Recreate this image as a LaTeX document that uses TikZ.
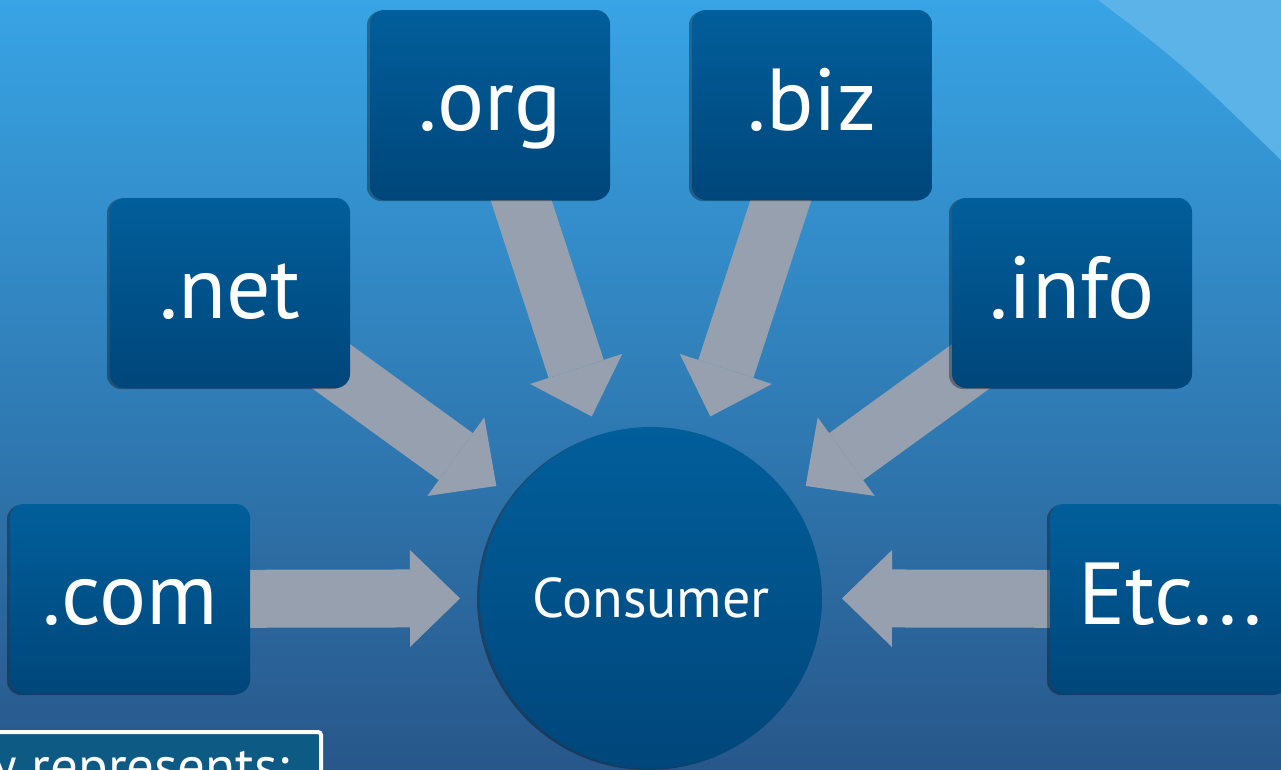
\documentclass[tikz,border=0pt]{standalone}
\usepackage{fontspec}
\setmainfont{PT Sans}
\usetikzlibrary{arrows.meta,shadows}
\pgfdeclarelayer{back}
\pgfdeclarelayer{mid}
\pgfsetlayers{back,mid,main}
\definecolor{bgtop}{HTML}{38A4E5}
\definecolor{bgmid}{HTML}{2F84C1}
\definecolor{bgbot}{HTML}{28578A}
\definecolor{gloss}{HTML}{5CB3E8}
\definecolor{boxtop}{HTML}{015E9A}
\definecolor{boxbot}{HTML}{00467A}
\definecolor{arrowgray}{HTML}{96A0AF}
\definecolor{keyfill}{HTML}{0D5A85}
\begin{document}
\begin{tikzpicture}[x=1pt,y=-1pt,
    tld_node/.style={rectangle,rounded corners=14pt,minimum width=240pt,minimum height=190pt,inner sep=0pt,
        text height=50pt,text depth=0pt,top color=boxtop,bottom color=boxbot,text=white,
        font=\fontsize{88}{88}\selectfont,
        drop shadow={shadow xshift=-3pt,shadow yshift=-1pt,opacity=0.35,fill=black}},
    hub_node/.style={circle,minimum size=342pt,inner sep=0pt,outer sep=20pt,text height=38pt,text depth=0pt,
        top color=boxtop,bottom color=boxbot,text=white,font=\fontsize{56}{56}\selectfont,
        drop shadow={shadow xshift=-3pt,shadow yshift=-1pt,opacity=0.35,fill=black}},
    feed_arrow/.style={draw=arrowgray,line width=58pt,-{Triangle[width=97pt,length=50pt,line width=0pt]}}]
    \useasboundingbox (0,0) rectangle (1281,769);
    \begin{pgfonlayer}{back}
        \shade[top color=bgtop,middle color=bgmid,bottom color=bgbot] (0,0) rectangle (1281,769);
        \fill[gloss] (1098,0) .. controls (1180,62) .. (1281,160) -- (1281,0) -- cycle;
    \end{pgfonlayer}
    \node[tld_node] (com) at (130,599) {.com};
    \node[tld_node] (net) at (230,293) {.net};
    \node[tld_node] (org) at (490,105) {.org};
    \node[tld_node] (biz) at (812,105) {.biz};
    \node[tld_node] (info) at (1072,293) {.info};
    \node[tld_node] (etc) at (1170,599) {Etc...};
    \node[hub_node] (cons) at (651,598) {Consumer};
    \begin{pgfonlayer}{mid}
        \foreach \n in {com,net,org,biz,info,etc}
            \draw[feed_arrow] (\n.center) -- (cons);
    \end{pgfonlayer}
    \node[draw=white,line width=4pt,fill=keyfill,rounded corners=3pt,minimum width=340pt,minimum height=80pt,
        anchor=north east] (key) at (323,730) {};
    \node[anchor=base east,text=white,font=\fontsize{55}{55}\selectfont,inner sep=0pt] (keytext) at (290,785) {w represents:};
\end{tikzpicture}
\end{document}
